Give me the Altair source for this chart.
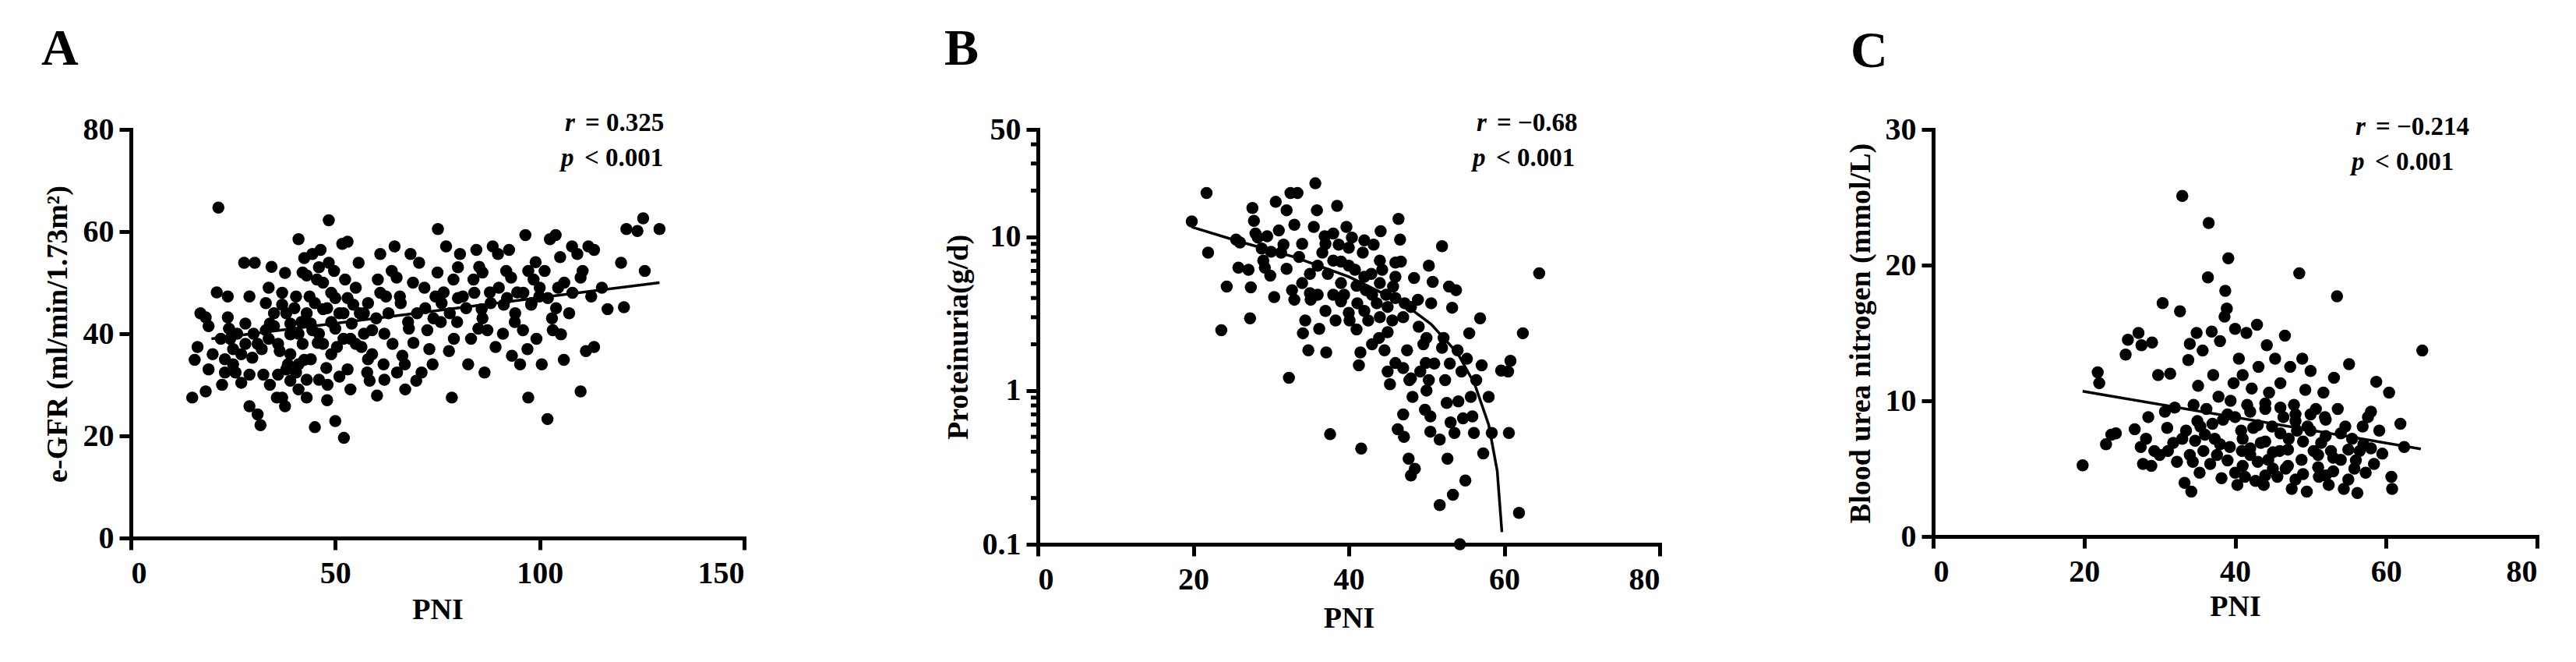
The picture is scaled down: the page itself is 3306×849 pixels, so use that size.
import altair as alt
import pandas as pd

FONT = "Liberation Serif"

# ---------------- Panel A : e-GFR vs PNI ----------------
a_pts = [(15,27.5),(18.3,28.7),(15.6,34.9),(16.3,37.4),(17,44),(18.3,43.2),(19,41.5),(21,48.1),(21.4,64.7),
         (22.3,30),(23,32.4),(23.7,47.3),(23.7,43.2),(24.3,39),(25,34),(25.6,32.4),(27,30.4),(27.7,53.9),
         (29,47.3),(29,25.8),(29.7,35.3),(30.3,53.9),(31,24.2),(31.7,22.1),(32.4,32),(33,40.7),(33.7,49),
         (33.7,39),(34.4,53.1),(35,41.5),(35.7,27.5),(36.4,36.6),(37,45.7),(37,27.5),(37.7,25.8),(37.7,51.9),
         (38.4,34),(39,39.9),(39,30.8),(40.4,32.4),(40.4,47.3),(41,58.5),(41,29.1),(41.7,42.3),(42.4,54.8),
         (42.4,34.9),(43,27.5),(43,51.4),(43.7,47.3),(44.4,55.6),(44.4,40.7),(45,21.7),(45.5,50.6),(45.7,38.2),
         (46.4,56.4),(47,44.8),(47.8,33.3),(48.1,30),(48.4,62.2),(48.4,53.9),(49,42.3),(49.7,52.3),(50,22.9),
         (50.4,37.4),(51,31.6),(51.7,57.6),(52.1,19.6),(52.4,50.6),(53,58),(53.7,29.1),(53.7,39),(54.4,45.7),
         (55.7,53.9),(56.4,37.4),(57,44),(57.8,32.4),(58.4,30.8),(59,40.7),(60.2,27.9),(60.4,50.6),(61,55.6),
         (61.8,34),(62.4,47.3),(63.8,52.3),(64.5,57.1),(65.1,32.4),(65.8,47.3),(66.4,35.7),(67.1,29.1),
         (67.8,42.3),(68.4,55.6),(69.1,38.2),(69.8,30.8),(70.5,53.9),(71.1,32.4),(71.8,49),(72.5,40.7),
         (73.8,34),(74.5,47.3),(75.1,60.5),(75.8,42.3),(76.5,48.1),(77.1,57.1),(77.8,36.6),(78.5,27.5),
         (78.9,50.6),(79.8,42.3),(80.5,55.6),(81.2,47.3),(82.5,34),(83.2,39),(83.8,50.6),(84.5,56.4),
         (85.2,53.1),(85.8,44.8),(86.5,32.4),(87.2,40.7),(87.8,48.1),(88.5,57.1),(89.2,37.4),(89.8,55.6),
         (91.2,45.7),(91.8,52.3),(92.5,56.4),(93.2,35.7),(93.9,42.3),(94.5,48.1),(95.2,34),(95.9,40.7),
         (96.5,59.3),(97.2,27.5),(97.2,52.3),(97.9,45.7),(98.5,50.6),(99.2,39),(99.9,47.3),(100.5,34),
         (101.2,52.3),(101.9,23.3),(102.5,58.5),(103.2,40.7),(103.9,59.3),(104.5,49),(105.2,39.9),(105.9,34.9),
         (107.2,44),(107.9,57.1),(109.2,55.6),(110,28.7),(110.5,52.3),(111.3,36.6),(111.9,57.1),(112.6,47.3),
         (113.3,37.4),(113.3,56.4),(115.2,49),(116.6,44.8),(119.9,53.9),(120.6,45.2),(121.2,60.5),(123.9,60.1),
         (125.3,62.6),(125.7,52.3),(129.3,60.5),
         (22,39),(24,41),(26,40),(27,36),(28,38),(30,40),(31,38),(32,37),(34,42),(35,44),(36,38),(38,44),
         (39,42),(40,45),(41,40),(42,38),(43,44),(44,42),(45,46),(46,40),(47,38),(48,45),(49,36),(50,41),
         (51,44),(52,39),(53,47),(54,42),(55,38),(56,44),(57,40),(58,46),(59,36),(60,43),(62,40),(63,44),
         (64,38),(66,46),(68,41),(70,44),(72,45),(74,43),(76,46),(78,44),(80,47),(82,45),(84,48),(86,43),
         (88,46),(90,49),(92,47),(94,44),(96,48),(98,46),(100,49),(102,47),(104,45),(106,50),(108,48),
         (110,51),(33,46),(37,48),(39,36),(44,35),(47,50),(49,48),(52,44),(36,32),(41,34),(46,31),(28,42),
         (25,37),(20,36),(19,33),(23,35),(29,32),(34,30),(38,33),(43,31),(48,27),(53,33),(58,35),(62,31),
         (67,34),(73,37),(79,39),(85,41),(91,40),(97,37),(103,43),(42,52),(46,53),(50,47),(55,49),(61,48),
         (65,51),(69,50),(75,52),(80,53),(86,52),(93,51),(99,54),(105,55)]
a_fit_x = [19.7, 129.3]
a_fit_y = [39.0, 50.0]
a_xticks = [0, 50, 100, 150]
a_yticks = [0, 20, 40, 60, 80]

# ---------------- Panel B : Proteinuria vs PNI (log) ----------------
b_pts = [(19.8,12.6),(21.7,19.3),(21.9,7.9),(23.6,2.47),(24.3,4.75),(25.5,9.6),(25.8,6.3),(27.1,6.1),
         (27.3,2.95),(27.4,4.7),(27.6,15.4),(27.8,12.7),(28.3,9.9),(28.8,8.4),(29.2,6.3),(29.5,10.1),
         (29.9,5.6),(30.4,4.06),(30.6,16.9),(31.3,7.9),(31.6,8.9),(32,14.9),(32.3,1.21),(32.5,19.3),
         (32.7,4.5),(33,3.9),(33.4,19.3),(33.6,7.4),(34.1,2.36),(34.4,2.86),(34.8,1.83),(35,5.75),(35.1,3.9),
         (35.5,11.6),(35.7,22.3),(35.9,14.9),(36.2,2.52),(36.6,7.9),(36.9,10.1),(37.1,1.77),(37.3,5.75),
         (37.6,0.52),(38,4.2),(38.3,2.86),(38.5,15.9),(38.7,8.9),(39,6.9),(39.4,4.2),(39.7,11.6),(40.1,2.86),
         (40.4,9.9),(40.8,6.1),(41.1,3.7),(41.3,1.46),(41.5,1.77),(41.6,0.42),(41.8,7.9),(42.2,4.5),
         (42.5,2.86),(42.9,5.75),(43.2,8.9),(43.6,3.7),(43.9,2.2),(44.1,10.9),(44.3,6.1),(44.6,1.83),
         (44.8,4.2),(45,1.33),(45.3,1.1),(45.6,2.86),(45.7,4.75),(46,1.51),(46.3,0.56),(46.4,13.1),(46.6,9.6),
         (46.7,6.9),(47,0.70),(47.1,0.50),(47.2,3.7),(47.5,1.83),(47.7,0.36),(47.8,1.17),(48,0.28),(48.2,0.91),
         (48.4,5.4),(48.5,0.31),(48.9,3.9),(49.2,1.33),(49.6,2.0),(49.8,0.75),(49.9,1.51),(50.3,1.17),
         (50.3,6.5),(50.5,0.68),(50.6,3.7),(50.8,5.1),(50.5,0.54),(51.7,0.48),(51.7,0.18),(52,8.7),(52.2,2.2),
         (52.4,1.17),(52.6,0.83),(52.7,0.36),(52.9,4.75),(53.1,0.62),(53.3,3.46),(53.4,0.21),(53.6,0.53),
         (53.8,4.5),(54,1.83),(54.1,0.85),(54.3,0.1),(54.5,1.33),(54.7,0.66),(55,0.26),(55.2,1.61),(55.5,2.36),
         (55.7,0.91),(55.9,0.68),(56.1,0.53),(56.4,1.17),(56.9,2.95),(57.1,1.46),(57.3,0.39),(58,0.91),
         (58.4,0.53),(59.6,1.35),(60.5,1.33),(60.8,1.56),(60.6,0.53),(61.9,0.16),(62.4,2.36),(64.5,5.8),
         (36,6.5),(37,9),(38,7),(39,5),(40,6.5),(41,4.8),(42,5.5),(43,4.2),(44,5),(45,3.5),(46,4),(47,3),
         (48,3.5),(49,2.6),(50,2.2),(38,10.5),(40,8.5),(42,9.5),(44,7),(46,5.5),(34,9),(33,12),(31,11),(29,7),
         (35,4.3),(37,3.3),(39,3.8),(41,2.5),(43,2.0),(45,2.4),(47,1.4),(48,1.2),(50,1.0),(51,1.5),(52,1.9),
         (53,1.5),(46,6.8),(44,3.0),(42,3.3),(40,3.2),(36,4.2),(34,5.0),(32,6.2),(30,8.0),(28,10.5),(26,9.2)]
b_fit_x = [19.8, 26, 33, 40, 47, 50.6, 54, 56.2, 58, 59.1, 59.7]
b_fit_y = [11.6, 9.3, 7.4, 5.5, 3.7, 2.7, 1.75, 1.1, 0.6, 0.3, 0.12]
b_xticks = [0, 20, 40, 60, 80]
b_yticks = [0.1, 1, 10, 50]
b_minor = [0.2, 0.3, 0.4, 0.5, 0.6, 0.7, 0.8, 0.9, 2, 3, 4, 5, 6, 7, 8, 9, 20, 30, 40]

# ---------------- Panel C : BUN vs PNI ----------------
c_pts = [(19.8,5.25),(21.8,12.1),(22,11.3),(22.9,6.8),(23.6,7.5),(24.2,7.6),(25.5,13.4),(25.8,14.5),
         (26.7,7.9),(27.2,15),(27.5,6.6),(27.6,14.1),(27.8,5.35),(28.2,7.2),(28.5,8.8),(28.9,5.2),(29,14.3),
         (29.3,6.3),(29.8,11.9),(30.4,17.2),(30.7,9.2),(31.1,6.3),(31.4,12),(31.8,6.9),(32.3,5.5),(32.7,16.6),
         (33,25.1),(33.3,3.95),(33.5,7.8),(33.8,13),(34,14.2),(34.2,3.3),(34.4,5.5),(34.5,9.7),(34.7,7.05),
         (34.9,15),(35.1,11.1),(35.3,4.7),(35.4,8.1),(35.7,13.7),(35.8,6.3),(36.2,9.4),(36.4,19.1),(36.5,23.1),
         (36.7,5.35),(36.9,15.1),(37.1,11.9),(37.3,7.2),(37.6,6),(37.8,10.3),(38,14.4),(38.2,4.3),(38.4,8.6),
         (38.6,16.2),(38.7,18.1),(38.9,16.8),(39.1,20.5),(39.3,6.6),(39.4,10),(39.8,11.3),(40,15.3),(40.3,3.8),
         (40.5,13.1),(40.8,7.8),(40.9,6.3),(41,11.9),(41.3,4.4),(41.5,15),(41.6,9.7),(42,6),(42.2,10.9),
         (42.4,8),(42.7,4.1),(42.9,15.6),(43.1,12.5),(43.4,6.9),(43.8,3.8),(44,9.4),(44.2,14.1),(44.4,5.65),
         (44.5,10.6),(44.9,8.1),(45.3,13.1),(45.6,4.4),(45.9,6.3),(46,11.3),(46.4,8.8),(46.6,14.8),(46.7,5),
         (47.1,7.2),(47.3,12.5),(47.5,3.5),(47.8,9.7),(48.2,7.8),(48.5,19.4),(48.8,5.65),(48.9,13.1),
         (49.3,10.8),(49.5,3.3),(49.6,8.1),(50,12.2),(50.4,6.3),(50.7,9.4),(51.1,4.4),(51.4,6.9),(51.7,10.6),
         (51.9,8.8),(52.4,3.8),(52.7,6.3),(53.1,11.7),(53.5,17.7),(53.6,9.4),(54,5.65),(54.4,3.5),(54.6,8.1),
         (55.1,12.7),(55.5,7.2),(55.8,5),(56.2,3.2),(56.5,6.3),(56.9,8.1),(57.3,4.7),(57.6,8.8),(58,9.2),
         (58.4,5.35),(58.7,11.4),(59.1,7.8),(59.5,6.1),(60.4,10.6),(60.7,4.4),(60.8,3.5),(61.9,8.3),(62.4,6.6),
         (64.8,13.7),
         (36,7.5),(38,6.8),(40,8.8),(41,7.2),(42,6.5),(43,8.2),(44,7),(45,6.2),(46,7.6),(47,6.4),(48,8.5),
         (49,7),(50,7.8),(51,6),(52,7.4),(53,5.8),(54,7.6),(55,6.4),(56,5.6),(57,6.8),(39,5.6),(41,5.2),
         (43,5.5),(45,5.0),(47,5.2),(49,4.6),(51,5.1),(53,4.8),(37,8.3),(39,9),(42,9.2),(44,9.8),(46,9.5),
         (48,9),(50,9),(52,8.6),(40,4.7),(44,4.5),(48,4.2),(52,4.5),(55,4.2),(58,6.5),(33,7.2),(35,8.5),
         (31,8),(30,6),(32,9.5),(34,6)]
c_fit_x = [19.8, 64.6]
c_fit_y = [10.7, 6.45]
c_xticks = [0, 20, 40, 60, 80]
c_yticks = [0, 10, 20, 30]

x_title = "PNI"
y_titles = ["e-GFR (ml/min/1.73m²)", "Proteinuria(g/d)", "Blood urea nitrogen (mmol/L)"]
letters = ["A", "B", "C"]
r_texts = ["= 0.325", "= \u22120.68", "= \u22120.214"]
p_text = "< 0.001"


def panel(pts, fx, fy, xdom, xt, ydom, yt, ytitle, letter, r_text, w, h,
          ylog=False, minor=None, ytitle_x=-94, xtitle_y=92, letter_x=-115,
          letter_y=-83, ann_x=557, ann_y=2):
    df = pd.DataFrame(pts, columns=["x", "y"])
    fit = pd.DataFrame({"x": fx, "y": fy})
    xs = alt.Scale(domain=xdom, nice=False, zero=False)
    ys = alt.Scale(domain=ydom, nice=False, zero=False, type="log" if ylog else "linear")
    xenc = alt.X("x:Q", scale=xs, axis=alt.Axis(
        values=xt, title=x_title, titleX=w / 2, titleY=xtitle_y, titleBaseline="middle",
        titleAlign="center", labelPadding=10, format="~r"))
    yenc = alt.Y("y:Q", scale=ys, axis=alt.Axis(
        values=yt, title=ytitle, titleX=ytitle_x, titleY=h / 2, titleBaseline="middle",
        titleAlign="center", titleAngle=-90, labelPadding=7, format="~r"))
    layers = []
    if minor is not None:
        mdf = pd.DataFrame({"y": minor})
        layers.append(alt.Chart(mdf).mark_rule(color="black", strokeWidth=5).encode(
            y=yenc, x=alt.value(-9), x2=alt.value(0)))
    layers.append(alt.Chart(df).mark_circle(size=240, color="black", opacity=1).encode(x=xenc, y=yenc))
    layers.append(alt.Chart(fit).mark_line(color="black", strokeWidth=3.5).encode(x=xenc, y=yenc))
    one = pd.DataFrame({"k": [0]})
    layers.append(alt.Chart(one).mark_text(text=letter, font=FONT, fontSize=66, fontWeight="bold",
                                           align="left", baseline="alphabetic", color="black").encode(
        x=alt.value(letter_x), y=alt.value(letter_y)))
    layers.append(alt.Chart(one).mark_text(text="r", font=FONT, fontSize=33, fontWeight="bold",
                                           fontStyle="italic", align="left", baseline="alphabetic",
                                           color="black").encode(x=alt.value(ann_x), y=alt.value(ann_y)))
    layers.append(alt.Chart(one).mark_text(text=r_text, font=FONT, fontSize=33, fontWeight="bold",
                                           align="left", baseline="alphabetic", color="black").encode(
        x=alt.value(ann_x + 26), y=alt.value(ann_y)))
    layers.append(alt.Chart(one).mark_text(text="p", font=FONT, fontSize=33, fontWeight="bold",
                                           fontStyle="italic", align="left", baseline="alphabetic",
                                           color="black").encode(x=alt.value(ann_x - 5), y=alt.value(ann_y + 45)))
    layers.append(alt.Chart(one).mark_text(text=p_text, font=FONT, fontSize=33, fontWeight="bold",
                                           align="left", baseline="alphabetic", color="black").encode(
        x=alt.value(ann_x + 25), y=alt.value(ann_y + 45)))
    return alt.layer(*layers).properties(width=w, height=h)


pa = panel(a_pts, a_fit_x, a_fit_y, [0, 150], a_xticks, [0, 80], a_yticks, y_titles[0], letters[0],
           r_texts[0], 787, 524, ytitle_x=-94, xtitle_y=92, letter_x=-115, letter_y=-83, ann_x=557, ann_y=2)
pb = panel(b_pts, b_fit_x, b_fit_y, [0, 80], b_xticks, [0.1, 50], b_yticks, y_titles[1], letters[1],
           r_texts[1], 798, 532, ylog=True, minor=b_minor, ytitle_x=-102, xtitle_y=95, letter_x=-120,
           letter_y=-83, ann_x=563, ann_y=2)
pc = panel(c_pts, c_fit_x, c_fit_y, [0, 80], c_xticks, [0, 30], c_yticks, y_titles[2], letters[2],
           r_texts[2], 775, 522, ytitle_x=-93, xtitle_y=90, letter_x=-106, letter_y=-80, ann_x=542, ann_y=7)

inner = alt.hconcat(pb, pc, spacing=351, bounds="flush")
chart = alt.hconcat(pa, inner, spacing=377, bounds="flush").properties(
    padding={"left": 45, "top": 22, "right": 10, "bottom": 10},
    background="white"
).configure_view(stroke=None).configure_axis(
    domainColor="black", domainWidth=5, domainCap="square", tickColor="black", tickWidth=5,
    tickSize=15, labelFont=FONT, labelFontSize=40, labelFontWeight="bold", labelColor="black",
    titleFont=FONT, titleFontSize=38, titleFontWeight="bold", titleColor="black", grid=False,
    labelOverlap=False, labelBound=False
)

chart.save("out.html", embed_options={"renderer": "svg", "actions": False})
